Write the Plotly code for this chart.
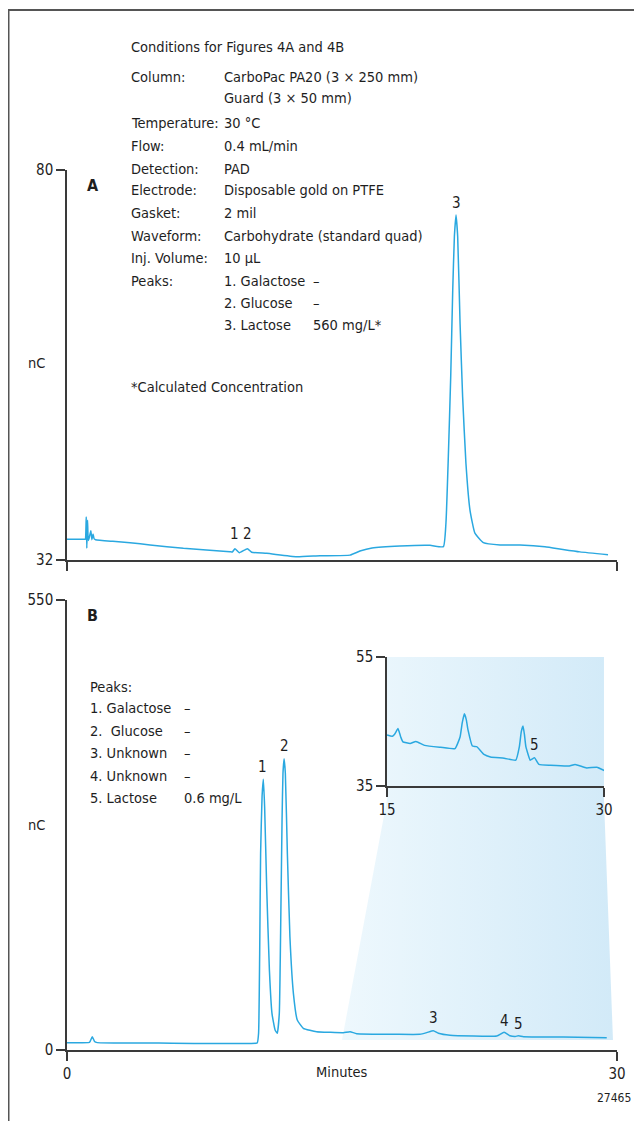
import plotly.graph_objects as go

W, H = 642, 1121
OFF = 8  # page body margin offset
FONT = "Liberation Sans Narrow, Arial Narrow, DejaVu Sans Condensed, sans-serif"
TRACE = "#2aa8e0"
AX = "#3a3a3a"
TXT = "#1e1e1e"
FS = 14.5

# ---------------- data ----------------
# Panel A: time (min) and signal (nC)
a_time = [0.0, 0.95, 1.00, 1.05, 1.08, 1.12, 1.16, 1.22, 1.30, 1.36, 1.42, 1.48, 1.56,
          2.5, 3.44, 4.53, 6.35, 8.89, 9.02, 9.16, 9.40, 9.84, 10.07, 10.89, 12.53,
          13.8, 15.44, 15.98, 16.64, 18.16, 19.8, 20.53, 20.67, 20.80, 20.93, 21.04,
          21.13, 21.22, 21.31, 21.44, 21.58, 21.76, 21.98, 22.25, 22.71, 23.62, 24.71,
          26.07, 27.05, 27.98, 29.51]
a_nc = [34.55, 34.55, 34.55, 37.3, 33.45, 36.9, 34.4, 34.8, 35.6, 34.5, 35.2, 34.6, 34.5,
        34.3, 34.13, 33.85, 33.44, 33.02, 32.98, 33.39, 32.9, 33.39, 32.95, 32.82, 32.41,
        32.53, 32.6, 33.1, 33.48, 33.72, 33.8, 33.64, 36.55, 44.7, 54.6, 65.2,
        71.8, 74.46, 71.8, 61.1, 52.1, 43.9, 38.15, 35.3, 34.13, 33.85, 33.85,
        33.64, 33.3, 33.0, 32.65]

# Panel B: time (min) and signal (nC)
b_time = [0.0, 1.22, 1.28, 1.38, 1.50, 1.65, 5.0, 10.30, 10.38, 10.45, 10.51, 10.56,
          10.64, 10.71, 10.78, 10.89, 11.04, 11.18, 11.35, 11.47, 11.58, 11.66, 11.73,
          11.78, 11.84, 11.91, 12.02, 12.16, 12.35, 12.56, 12.89, 13.62, 14.35, 15.07,
          15.44, 15.80, 17.98, 19.25, 19.62, 19.98, 20.26, 20.89, 23.44, 23.84, 24.16,
          24.45, 24.62, 24.90, 27.07, 29.44]
b_nc = [8.9, 9.3, 11.4, 16.3, 10.5, 9.0, 8.5, 8.2, 8.9, 20.4, 118, 240,
        310, 331, 297, 200, 97.8, 44.8, 24.4, 20.4, 44.8, 159, 281,
        338, 356, 338, 240, 138, 69, 36.7, 26.5, 22.4, 21.6, 21.2,
        22.4, 20.0, 19.2, 19.2, 21.2, 23.6, 20.4, 18.0, 17.1, 21.6, 17.5,
        16.6, 17.3, 16.3, 15.9, 15.0]

# Inset (15-30 min expanded)
i_time = [15.0, 15.37, 15.55, 15.76, 15.95, 16.1, 16.6, 17.0, 17.6, 18.7, 19.7, 20.05,
          20.2, 20.35, 20.48, 20.6, 20.9, 21.2, 21.7, 22.15, 23.1, 23.9, 24.15, 24.28,
          24.4, 24.5, 24.6, 24.9, 25.05, 25.2, 25.5, 26.3, 27.6, 28.0, 28.8, 29.5, 30.1]
i_nc = [42.9, 42.7, 43.1, 43.9, 42.6, 41.85, 41.6, 41.9, 41.3, 41.0, 40.8, 42.6,
        44.8, 46.2, 45.3, 43.7, 41.2, 41.1, 39.9, 39.5, 39.3, 39.0, 41.1, 43.4,
        44.3, 43.0, 41.1, 39.0, 39.2, 39.4, 38.35, 38.2, 38.1, 38.35, 37.8, 37.9, 37.3]

# Peak labels: (time, nC, text)
a_peak_t = [9.16, 9.84, 21.22]
a_peak_v = [35.2, 35.2, 76.0]
a_peak_txt = ["1", "2", "3"]
b_peak_t = [10.66, 11.86, 19.98, 23.84, 24.65]
b_peak_v = [346, 371, 39.5, 36, 32]
b_peak_txt = ["1", "2", "3", "4", "5"]
i_peak_t = [25.17]
i_peak_v = [41.3]
i_peak_txt = ["5"]

# Zoom call-out region (in panel-B units)
call_t = [17.45, 29.29, 29.29, 29.78, 15.0, 17.45, 17.45]
call_v = [480.4, 480.4, 305.6, 12.2, 12.2, 305.6, 480.4]

cond_labels = ["Column:", "", "Temperature:", "Flow:", "Detection:", "Electrode:",
               "Gasket:", "Waveform:", "Inj. Volume:", "Peaks:", "", ""]
cond_values = ["CarboPac PA20 (3 × 250 mm)", "Guard (3 × 50 mm)", "30 °C", "0.4 mL/min",
               "PAD", "Disposable gold on PTFE", "2 mil", "Carbohydrate (standard quad)",
               "10 µL", "1. Galactose", "2. Glucose", "3. Lactose"]
cond_conc = ["", "", "", "", "", "", "", "", "", "–", "–", "560 mg/L*"]
cond_y = [77, 98, 123, 146, 169, 190, 213, 236, 258, 281, 303, 325]

b_list_names = ["1. Galactose", "2.  Glucose", "3. Unknown", "4. Unknown", "5. Lactose"]
b_list_conc = ["–", "–", "–", "–", "0.6 mg/L"]
b_list_y = [708, 731, 753, 776, 798]


def px(x):
    return (x - OFF) / W


def py(y):
    return 1 - (y - OFF) / H


fig = go.Figure()

# call-out shading (below the trace)
fig.add_trace(go.Scatter(
    x=call_t, y=call_v, xaxis="x2", yaxis="y2", mode="lines", fill="toself",
    line=dict(width=0), hoverinfo="skip",
    fillgradient=dict(type="horizontal",
                      colorscale=[[0, "#eef8fd"], [1, "#d2eaf8"]])))

LINE = dict(color=TRACE, width=1.5, shape="spline", smoothing=0.4)
fig.add_trace(go.Scatter(x=a_time, y=a_nc, xaxis="x", yaxis="y", mode="lines", line=LINE))
fig.add_trace(go.Scatter(x=b_time, y=b_nc, xaxis="x2", yaxis="y2", mode="lines", line=LINE))
fig.add_trace(go.Scatter(x=i_time, y=i_nc, xaxis="x3", yaxis="y3", mode="lines",
                         line=LINE, cliponaxis=False))

axcommon = dict(showgrid=False, zeroline=False, showline=True, linecolor=AX, linewidth=1.5,
                ticks="outside", tickcolor=AX, tickwidth=1.5, ticklen=9, automargin=False,
                tickmode="array", tickfont=dict(family=FONT, size=15, color=TXT),
                fixedrange=True)

fig.update_layout(
    template="none",
    width=W, height=H, margin=dict(l=0, r=0, t=0, b=0, pad=0, autoexpand=False),
    paper_bgcolor="white", plot_bgcolor="rgba(0,0,0,0)", showlegend=False,
    font=dict(family=FONT, size=FS, color=TXT),
    xaxis=dict(domain=[px(67), px(617)], range=[0, 30], anchor="y",
               tickvals=[0, 30], showticklabels=False, **axcommon),
    yaxis=dict(domain=[py(560), py(170)], range=[32, 80], anchor="x",
               tickvals=[32, 80], **axcommon),
    xaxis2=dict(domain=[px(67), px(617)], range=[0, 30], anchor="y2",
                tickvals=[0, 30], **axcommon),
    yaxis2=dict(domain=[py(1050), py(600)], range=[0, 550], anchor="x2",
                tickvals=[0, 550], **axcommon),
    xaxis3=dict(domain=[px(387), px(604)], range=[15, 30], anchor="y3",
                tickvals=[15, 30], **axcommon),
    yaxis3=dict(domain=[py(786), py(657)], range=[35, 55], anchor="x3",
                tickvals=[35, 55], **axcommon),
)

ann = []


def text(x, y, s, size=FS, anchor="left", bold=False):
    ann.append(dict(x=px(x), y=py(y), xref="paper", yref="paper",
                    text=(f"<b>{s}</b>" if bold else s),
                    showarrow=False, xanchor=anchor, yanchor="middle",
                    font=dict(family=FONT, size=size, color=TXT)))


text(129, 47, "Conditions for Figures 4A and 4B")
for lab, val, conc, yy in zip(cond_labels, cond_values, cond_conc, cond_y):
    if lab:
        text(129, yy, lab)
    text(222, yy, val)
    if conc:
        text(311, yy, conc)
text(129, 387, "*Calculated Concentration")

text(88, 687, "Peaks:")
for nm, conc, yy in zip(b_list_names, b_list_conc, b_list_y):
    text(88, yy, nm)
    text(182, yy, conc)

text(36, 363, "nC", anchor="center")
text(36, 825, "nC", anchor="center")
text(93, 186, "A", size=16, anchor="center", bold=True)
text(93, 615, "B", size=16, anchor="center", bold=True)
text(342, 1072, "Minutes", anchor="center")
text(633, 1098, "27465", size=12, anchor="right")

for t, v, s in zip(a_peak_t, a_peak_v, a_peak_txt):
    ann.append(dict(x=t, y=v, xref="x", yref="y", text=s, showarrow=False,
                    yanchor="middle", font=dict(family=FONT, size=15, color=TXT)))
for t, v, s in zip(b_peak_t, b_peak_v, b_peak_txt):
    ann.append(dict(x=t, y=v, xref="x2", yref="y2", text=s, showarrow=False,
                    yanchor="middle", font=dict(family=FONT, size=15, color=TXT)))
for t, v, s in zip(i_peak_t, i_peak_v, i_peak_txt):
    ann.append(dict(x=t, y=v, xref="x3", yref="y3", text=s, showarrow=False,
                    yanchor="middle", font=dict(family=FONT, size=15, color=TXT)))

fig.update_layout(annotations=ann)

# outer frame (left edge at page x=8, top at page y=10)
fig.update_layout(shapes=[
    dict(type="line", xref="paper", yref="paper", x0=px(8.5), x1=px(8.5), y0=0, y1=py(10),
         line=dict(color="#555555", width=2)),
    dict(type="line", xref="paper", yref="paper", x0=px(8), x1=1, y0=py(10), y1=py(10),
         line=dict(color="#555555", width=2)),
])

fig.write_html("out.html")
